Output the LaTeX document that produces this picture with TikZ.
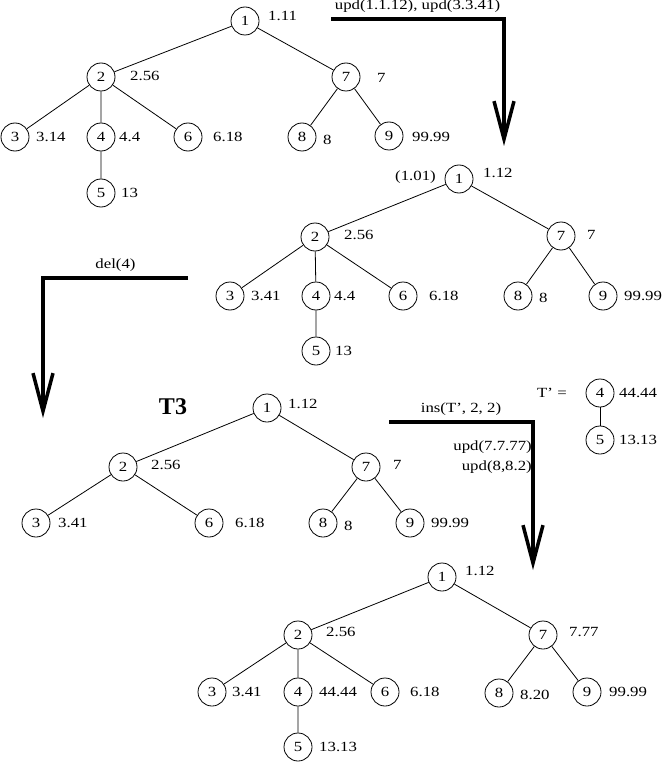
\documentclass[tikz,border=0pt]{standalone}
\usepackage{fontspec}
\setmainfont{Liberation Serif}[FakeStretch=1.2]
\newfontfamily\titlefont{Liberation Serif}
\usetikzlibrary{arrows.meta}

\tikzset{
  vtx/.style={draw, circle, minimum size=28pt, inner sep=0pt, line width=0.8pt},
  val/.style={anchor=west, inner sep=0pt},
  edge/.style={line width=0.8pt},
  op/.style={line width=3.5pt, -{Straight Barb[length=38pt, width=20pt]}},
}

\begin{document}
\begin{tikzpicture}[x=1pt, y=-1pt, font=\fontsize{14}{16}\selectfont]
        \useasboundingbox (0,0) rectangle (666,762);
        % first tree
        \node[vtx] (a1) at (245,21) {1}; \node[val] (va1) at (268,16) {1.11};
        \node[vtx] (a2) at (101,77) {2}; \node[val] (va2) at (130,76) {2.56};
        \node[vtx] (a7) at (346,77) {7}; \node[val] (va7) at (377,78) {7};
        \node[vtx] (a3) at (15,137) {3}; \node[val] (va3) at (36,137) {3.14};
        \node[vtx] (a4) at (101,137) {4}; \node[val] (va4) at (119,137) {4.4};
        \node[vtx] (a6) at (188,137) {6}; \node[val] (va6) at (213,137) {6.18};
        \node[vtx] (a5) at (101,193) {5}; \node[val] (va5) at (121,193) {13};
        \node[vtx] (a8) at (302,137) {8}; \node[val] (va8) at (323,140) {8};
        \node[vtx] (a9) at (389,136) {9}; \node[val] (va9) at (412,137) {99.99};
        \draw[edge] (a1) -- (a2) (a1) -- (a7) (a2) -- (a3) (a2) -- (a4) (a2) -- (a6) (a4) -- (a5) (a7) -- (a8) (a7) -- (a9);
        % second tree
        \node[vtx] (b1) at (459,179) {1}; \node[val] (vb1) at (483,173) {1.12};
        \node[val] (ob1) at (395,177) {(1.01)};
        \node[vtx] (b2) at (315,237) {2}; \node[val] (vb2) at (344,235) {2.56};
        \node[vtx] (b7) at (561,236) {7}; \node[val] (vb7) at (587,235) {7};
        \node[vtx] (b3) at (230,296) {3}; \node[val] (vb3) at (251,296) {3.41};
        \node[vtx] (b4) at (316,296) {4}; \node[val] (vb4) at (334,296) {4.4};
        \node[vtx] (b6) at (403,296) {6}; \node[val] (vb6) at (429,296) {6.18};
        \node[vtx] (b5) at (316,351) {5}; \node[val] (vb5) at (335,351) {13};
        \node[vtx] (b8) at (518,296) {8}; \node[val] (vb8) at (539,298) {8};
        \node[vtx] (b9) at (603,296) {9}; \node[val] (vb9) at (624,296) {99.99};
        \draw[edge] (b1) -- (b2) (b1) -- (b7) (b2) -- (b3) (b2) -- (b4) (b2) -- (b6) (b4) -- (b5) (b7) -- (b8) (b7) -- (b9);
        % T3
        \node (t3) at (173,407) {\titlefont\bfseries\fontsize{24}{26}\selectfont T3};
        \node[vtx] (c1) at (267,408) {1}; \node[val] (vc1) at (288,404) {1.12};
        \node[vtx] (c2) at (123,467) {2}; \node[val] (vc2) at (151,465) {2.56};
        \node[vtx] (c7) at (366,467) {7}; \node[val] (vc7) at (393,465) {7};
        \node[vtx] (c3) at (36,523) {3}; \node[val] (vc3) at (58,523) {3.41};
        \node[vtx] (c6) at (209,523) {6}; \node[val] (vc6) at (235,523) {6.18};
        \node[vtx] (c8) at (323,523) {8}; \node[val] (vc8) at (344,526) {8};
        \node[vtx] (c9) at (410,523) {9}; \node[val] (vc9) at (431,523) {99.99};
        \draw[edge] (c1) -- (c2) (c1) -- (c7) (c2) -- (c3) (c2) -- (c6) (c7) -- (c8) (c7) -- (c9);
        % T'
        \node[anchor=west, inner sep=0pt] (tq) at (537,393) {T' =};
        \node[vtx] (t4) at (600,393) {4}; \node[val] (vt4) at (619,393) {44.44};
        \node[vtx] (t5) at (600,440) {5}; \node[val] (vt5) at (619,440) {13.13};
        \draw[edge] (t4) -- (t5);
        % last tree
        \node[vtx] (d1) at (442,577) {1}; \node[val] (vd1) at (465,571) {1.12};
        \node[vtx] (d2) at (298,635) {2}; \node[val] (vd2) at (326,632) {2.56};
        \node[vtx] (d7) at (543,635) {7}; \node[val] (vd7) at (569,632) {7.77};
        \node[vtx] (d3) at (212,692) {3}; \node[val] (vd3) at (232,692) {3.41};
        \node[vtx] (d4) at (298,692) {4}; \node[val] (vd4) at (319,692) {44.44};
        \node[vtx] (d6) at (385,692) {6}; \node[val] (vd6) at (410,692) {6.18};
        \node[vtx] (d5) at (298,747) {5}; \node[val] (vd5) at (319,747) {13.13};
        \node[vtx] (d8) at (499,693) {8}; \node[val] (vd8) at (520,695) {8.20};
        \node[vtx] (d9) at (587,692) {9}; \node[val] (vd9) at (609,692) {99.99};
        \draw[edge] (d1) -- (d2) (d1) -- (d7) (d2) -- (d3) (d2) -- (d4) (d2) -- (d6) (d4) -- (d5) (d7) -- (d8) (d7) -- (d9);
        % operations
        \coordinate (p1) at (331,19); \coordinate (q1) at (504,19); \coordinate (r1) at (504,146);
        \draw[op] (p1) -- node[above=1pt] (l1) {upd(1.1.12), upd(3.3.41)} (q1) -- (r1);
        \coordinate (p2) at (188,278); \coordinate (q2) at (43,278); \coordinate (r2) at (43,418);
        \draw[op] (p2) -- node[above=1pt] (l2) {del(4)} (q2) -- (r2);
        \coordinate (p3) at (389,422); \coordinate (q3) at (533,422); \coordinate (r3) at (533,570);
        \draw[op] (p3) -- node[above=1pt] (l3) {ins(T', 2, 2)} (q3) -- (r3);
        \node[anchor=east, inner sep=0pt] (u1) at (532,447) {upd(7.7.77)};
        \node[anchor=east, inner sep=0pt] (u2) at (532,467) {upd(8,8.2)};
\end{tikzpicture}
\end{document}
